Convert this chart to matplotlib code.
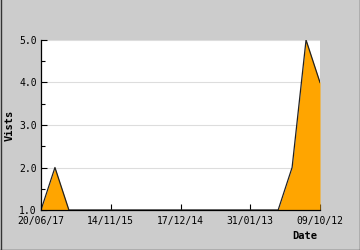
import matplotlib
matplotlib.use("Agg")
import matplotlib.pyplot as plt
from matplotlib.lines import Line2D

visits = [1, 2, 1, 1, 1, 1, 1, 1, 1, 1, 1, 1, 1, 1, 1, 1, 1, 1, 2, 5, 4]
tick_positions = [0, 5, 10, 15, 20]
tick_labels = ["20/06/17", "14/11/15", "17/12/14", "31/01/13", "09/10/12"]
y_ticks = [1.0, 2.0, 3.0, 4.0, 5.0]

plt.rcParams['font.family'] = ['DejaVu Sans Mono']

fig = plt.figure(figsize=(3.6, 2.5), dpi=100, facecolor="#cccccc")
ax = fig.add_axes([41/360, 1-210/250, (320-41)/360, (210-40)/250])
ax.set_facecolor("white")

x = list(range(len(visits)))
ax.fill_between(x, 1, visits, color="#ffa500", zorder=2, linewidth=0)
ax.plot(x, visits, color="#222222", linewidth=0.9, zorder=3)

ax.set_xlim(0, len(visits) - 1)
ax.set_ylim(1, 5)
ax.set_yticks(y_ticks)
ax.set_yticklabels([f"{v:.1f}" for v in y_ticks])
ax.set_yticks([1.5, 2.5, 3.5, 4.5], minor=True)
ax.set_xticks(tick_positions)
ax.set_xticklabels(tick_labels)

ax.yaxis.grid(True, color="#dddddd", linewidth=0.8, zorder=1)
ax.set_axisbelow(True)
for s in ["top", "right"]:
    ax.spines[s].set_visible(False)
for s in ["left", "bottom"]:
    ax.spines[s].set_color("black")
    ax.spines[s].set_linewidth(0.9)
    ax.spines[s].set_zorder(4)

ax.tick_params(axis="both", which="major", direction="in", length=4, width=0.8,
               labelsize=7, color="black", pad=3)
ax.tick_params(axis="y", which="minor", direction="in", length=3, width=0.8)
ax.tick_params(axis="x", pad=4)

fig.text(10/360, 1-125/250, "Vists", rotation=90, ha="center", va="center",
         fontsize=7.5, fontweight="bold")
fig.text(305/360, 1-236/250, "Date", ha="center", va="center",
         fontsize=7.5, fontweight="bold")

e = 0.5
for xs, ys in [([e/360, e/360], [0, 1]), ([1-e/360, 1-e/360], [0, 1]),
               ([0, 1], [e/250, e/250])]:
    fig.lines.append(Line2D(xs, ys, transform=fig.transFigure,
                            color="#333333", linewidth=1.0))

fig.savefig("out.png", dpi=100, facecolor=fig.get_facecolor())
